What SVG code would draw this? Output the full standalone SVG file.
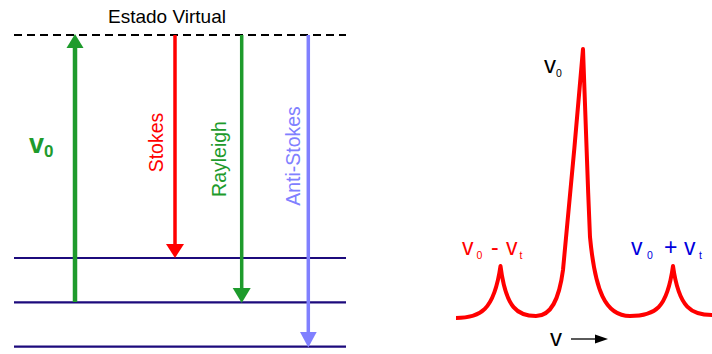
<svg xmlns="http://www.w3.org/2000/svg" width="712" height="354" viewBox="0 0 712 354">
<style>
text{font-family:"Liberation Sans",Arial,sans-serif;}
.lvl{stroke:#1c0a7c;stroke-width:2.2;fill:none;}
.virt{stroke:#000;stroke-width:2;stroke-dasharray:8 5;fill:none;}
.lab{font-size:19.5px;}
.spec{fill:none;stroke:#ff0000;stroke-width:4;stroke-linejoin:round;}
</style>
<rect width="712" height="354" fill="#fff"/>
<g id="virtual-state">
<line class="virt" x1="14" y1="35" x2="346" y2="35"/>
<text x="167" y="23" font-size="19" text-anchor="middle">Estado Virtual</text>
</g>
<g id="levels">
<line class="lvl" x1="14" y1="258" x2="346" y2="258"/>
<line class="lvl" x1="14" y1="302.3" x2="346" y2="302.3"/>
<line class="lvl" x1="14" y1="346.7" x2="346" y2="346.7"/>
</g>
<g id="connectors">
<g id="excitation">
<line x1="75" y1="302" x2="75" y2="46" stroke="#1e9b2c" stroke-width="4.5"/>
<polygon points="75,34 66.5,48 83.5,48" fill="#1e9b2c"/>
</g>
<g id="stokes-arrow">
<line x1="175" y1="35" x2="175" y2="246" stroke="#ff0000" stroke-width="3.5"/>
<polygon points="175,258 166,244 184,244" fill="#ff0000"/>
</g>
<g id="rayleigh-arrow">
<line x1="241.7" y1="35" x2="241.7" y2="290" stroke="#1e9b2c" stroke-width="3.5"/>
<polygon points="241.7,303 232.7,288 250.7,288" fill="#1e9b2c"/>
</g>
<g id="antistokes-arrow">
<line x1="308.3" y1="35" x2="308.3" y2="334" stroke="#8080ff" stroke-width="3.5"/>
<polygon points="308.3,347.5 300,332 316.7,332" fill="#8080ff"/>
</g>
</g>
<g id="labels">
<text x="29" y="153" font-size="27" font-weight="bold" fill="#1e9b2c">v<tspan font-size="17" dy="4">0</tspan></text>
<text class="lab" fill="#ff0000" text-anchor="middle" transform="translate(162.5,142.5) rotate(-90)">Stokes</text>
<text class="lab" fill="#1e9b2c" text-anchor="middle" transform="translate(226,159) rotate(-90)">Rayleigh</text>
<text class="lab" fill="#8080ff" text-anchor="middle" transform="translate(299.5,156) rotate(-90)">Anti-Stokes</text>
</g>
<g id="spectrum">
<path class="spec" d="M456,318 C480,318 494,311 500.5,266 C506,309 518,316 536,316 C551,316 559,300 563,270 C567,230 578,110 583,49 C585,95 587,170 590,237 C595,290 605,316 630,316 C655,316 667,309 673,266 C679,309 692,315 712,315"/>
</g>
<g id="peak-labels">
<text x="544" y="73" font-size="24" fill="#000">v<tspan font-size="10.5" dy="4">0</tspan></text>
<text x="462" y="254.5" font-size="23" fill="#ff0000">v<tspan x="476.5" font-size="10.5" dy="4.5">0</tspan><tspan x="491" dy="-4.5" font-size="23">-</tspan><tspan x="506" font-size="23">v</tspan><tspan x="519.5" font-size="10.5" dy="4.5">t</tspan></text>
<text x="631" y="255" font-size="23" fill="#0000dd">v<tspan x="647" font-size="10.5" dy="3.5">0</tspan><tspan x="664" dy="-3.5" font-size="23">+</tspan><tspan x="684" font-size="23">v</tspan><tspan x="699" font-size="10.5" dy="3.5">t</tspan></text>
</g>
<g id="axis">
<text x="550" y="346" font-size="24" fill="#000">v</text>
<line x1="571" y1="339" x2="597" y2="339" stroke="#000" stroke-width="1.3"/>
<polygon points="608,339 595,334.5 595,343.5" fill="#000"/>
</g>
</svg>
